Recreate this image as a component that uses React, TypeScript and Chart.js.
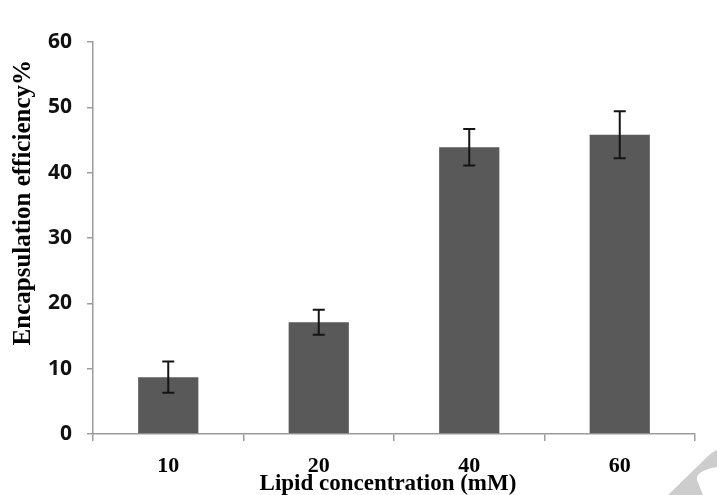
import React, { useEffect, useRef } from "react";
import { Chart, registerables } from "chart.js";

Chart.register(...registerables);

const categories = ["10", "20", "40", "60"];
const efficiency = [8.7, 17.1, 43.9, 45.8];
const errors = [2.4, 1.9, 2.8, 3.6];
const yTicks = [0, 10, 20, 30, 40, 50, 60];
const yTitle = "Encapsulation efficiency%";
const xTitle = "Lipid concentration (mM)";

const AXIS_COLOR = "#9c9c9c";

const errorBarPlugin = {
  id: "errorBars",
  afterDatasetsDraw(chart: any) {
    const meta = chart.getDatasetMeta(0);
    const yScale = chart.scales.y;
    const ctx = chart.ctx;
    ctx.save();
    ctx.strokeStyle = "#141414";
    ctx.lineWidth = 2;
    meta.data.forEach((bar: any, i: number) => {
      const v = efficiency[i];
      const e = errors[i];
      const x = bar.x;
      const yt = yScale.getPixelForValue(v + e);
      const yb = yScale.getPixelForValue(v - e);
      ctx.beginPath();
      ctx.moveTo(x, yt);
      ctx.lineTo(x, yb);
      ctx.moveTo(x - 6, yt);
      ctx.lineTo(x + 6, yt);
      ctx.moveTo(x - 6, yb);
      ctx.lineTo(x + 6, yb);
      ctx.stroke();
    });
    ctx.restore();
  },
};

const titlesPlugin = {
  id: "titles",
  afterDraw(chart: any) {
    const { ctx, chartArea } = chart;
    const y = chartArea.top + (chartArea.bottom - chartArea.top) * 0.41;
    ctx.save();
    ctx.fillStyle = "#000";
    ctx.textAlign = "center";
    ctx.textBaseline = "middle";
    ctx.font = "bold 25px 'Liberation Serif', serif";
    ctx.translate(24, y);
    ctx.rotate(-Math.PI / 2);
    ctx.fillText(yTitle, 0, 0);
    ctx.restore();

    ctx.save();
    ctx.fillStyle = "#000";
    ctx.textAlign = "center";
    ctx.textBaseline = "middle";
    ctx.font = "bold 23px 'Liberation Serif', serif";
    const cx = chartArea.left + (chartArea.right - chartArea.left) * 0.49;
    ctx.fillText(xTitle, cx, chartArea.bottom + 50);
    ctx.restore();
  },
};

const watermarkPlugin = {
  id: "watermark",
  afterDraw(chart: any) {
    const { ctx, width, height } = chart;
    ctx.save();
    ctx.fillStyle = "#cdcdcd";
    ctx.beginPath();
    ctx.moveTo(width - 49, height);
    ctx.lineTo(width - 11, height - 37);
    ctx.quadraticCurveTo(width - 5, height - 43, width, height - 45);
    ctx.lineTo(width, height - 28);
    ctx.quadraticCurveTo(width - 22, height - 24, width - 20, height - 15);
    ctx.lineTo(width - 14, height);
    ctx.closePath();
    ctx.fill();
    ctx.restore();
  },
};

export default function App() {
  const ref = useRef<HTMLCanvasElement | null>(null);

  useEffect(() => {
    if (!ref.current) return;
    const chart = new Chart(ref.current, {
      type: "bar",
      data: {
        labels: categories,
        datasets: [
          {
            data: efficiency,
            backgroundColor: "#595959",
            borderWidth: 0,
            barPercentage: 0.8,
            categoryPercentage: 0.5,
          },
        ],
      },
      options: {
        animation: false,
        responsive: true,
        maintainAspectRatio: false,
        layout: { padding: { top: 42, right: 22, left: 0, bottom: 0 } },
        plugins: {
          legend: { display: false },
          tooltip: { enabled: false },
        },
        scales: {
          x: {
            grid: {
              display: true,
              drawOnChartArea: false,
              drawTicks: true,
              tickLength: 7,
              color: AXIS_COLOR,
              lineWidth: 1.5,
              offset: true,
            },
            border: { display: true, color: AXIS_COLOR, width: 1.5 },
            ticks: {
              color: "#000",
              padding: 12,
              font: { family: "'Liberation Serif', serif", size: 22, weight: "bold" },
            },
            afterFit(scale: any) {
              scale.height = 61;
            },
          },
          y: {
            min: 0,
            max: 60,
            afterBuildTicks(scale: any) {
              scale.ticks = yTicks.map((v) => ({ value: v }));
            },
            grid: {
              display: true,
              drawOnChartArea: false,
              drawTicks: true,
              tickLength: 6,
              color: AXIS_COLOR,
              lineWidth: 1.5,
            },
            border: { display: true, color: AXIS_COLOR, width: 1.5 },
            ticks: {
              color: "#111",
              padding: 15,
              font: { family: "'Open Sans', sans-serif", size: 21, weight: "bold" },
            },
            afterFit(scale: any) {
              scale.width = 93;
            },
          },
        },
      },
      plugins: [errorBarPlugin, titlesPlugin, watermarkPlugin],
    });
    return () => chart.destroy();
  }, []);

  return (
    <div style={{ position: "fixed", left: 0, top: 0, width: 717, height: 495, background: "#fff" }}>
      <canvas ref={ref} />
    </div>
  );
}
